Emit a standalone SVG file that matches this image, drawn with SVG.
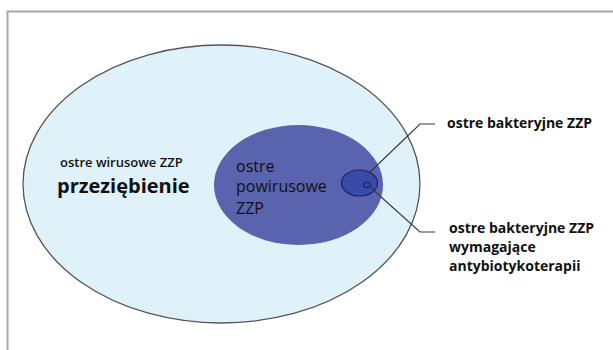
<svg xmlns="http://www.w3.org/2000/svg" width="613" height="350" viewBox="0 0 613 350">
<style>
text{font-family:"Open Sans","Liberation Sans",sans-serif;fill:#111;}
.b{font-weight:700;font-size:14px;}
.m{font-weight:600;font-size:13px;}
.r{font-size:16px;}
.big{font-weight:700;font-size:20px;}
.conn{fill:none;stroke:#3a3a3a;stroke-width:1.2;}
</style>
<rect width="613" height="350" fill="#fff"/>
<path d="M7.5,350 V11.5 H613" fill="none" stroke="#a8a8a8" stroke-width="2"/>
<g id="outer">
<ellipse cx="221.5" cy="184" rx="198.5" ry="139" fill="#dff2fa" stroke="#555" stroke-width="1.3"/>
<text class="m" x="60" y="167">ostre wirusowe ZZP</text>
<text class="big" x="57" y="193">przeziębienie</text>
</g>
<g id="powirusowe">
<ellipse cx="298.5" cy="185" rx="84.5" ry="60" fill="#5a63ad"/>
<text class="r" x="236" y="172">ostre</text>
<text class="r" x="236" y="192">powirusowe</text>
<text class="r" x="236" y="214">ZZP</text>
</g>
<g id="bakteryjne">
<ellipse cx="359.5" cy="183" rx="18" ry="13" fill="#3a4aa8" stroke="#1c2466" stroke-width="1.2"/>
</g>
<g id="antybiotyk">
<ellipse cx="367" cy="185" rx="3.5" ry="2.6" fill="#3a4aa8" stroke="#1c2466" stroke-width="1.2"/>
</g>
<g id="connectors">
<polyline class="conn" points="368,174 420,124 435,124"/>
<polyline class="conn" points="370,187 420,232 435,232"/>
</g>
<g id="label1">
<text class="b" x="447" y="128">ostre bakteryjne ZZP</text>
</g>
<g id="label2">
<text class="b" x="449" y="233">ostre bakteryjne ZZP</text>
<text class="b" x="449" y="252">wymagające</text>
<text class="b" x="449" y="271">antybiotykoterapii</text>
</g>
</svg>
